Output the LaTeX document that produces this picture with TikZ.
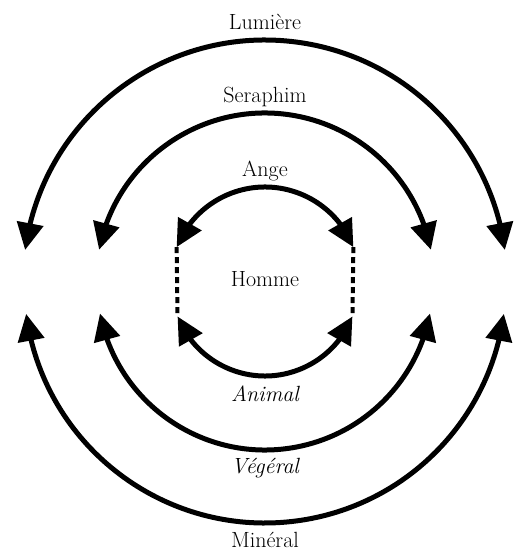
\documentclass[tikz,border=0pt]{standalone}
\usepackage{fontspec}
\usetikzlibrary{arrows.meta,bending}
\tikzset{
  arcarrow/.style={line width=5pt, {Triangle[length=27pt,width=26pt,flex]}-{Triangle[length=27pt,width=26pt,flex]}},
  dashline/.style={line width=4pt, dash pattern=on 6pt off 4pt},
  lbl/.style={anchor=base, inner sep=0pt, font=\fontsize{22}{26}\selectfont\addfontfeatures{FakeBold=1.5}},
  ilbl/.style={lbl, font=\fontsize{22}{26}\selectfont\itshape\addfontfeatures{FakeBold=1.5}}
}
\begin{document}
\begin{tikzpicture}[x=1pt,y=1pt]
\useasboundingbox (0,0) rectangle (516,555);
\coordinate (C) at (265,273);
% top arc end points
\coordinate (LumL) at ([shift={(C)}]172.4:242);
\coordinate (SerL) at ([shift={(C)}]169.0:169);
\coordinate (AngL) at ([shift={(C)}]158.5:95);
\coordinate (AngR) at ([shift={(C)}]21.5:95);
% bottom arc end points
\coordinate (MinL) at ([shift={(C)}]187.6:241);
\coordinate (VegL) at ([shift={(C)}]190.8:168);
\coordinate (AniL) at ([shift={(C)}]201.5:94);
\coordinate (AniR) at ([shift={(C)}]338.5:94);
% top arcs
\draw[arcarrow] (LumL) arc[start angle=172.4, end angle=7.6, radius=242];
\draw[arcarrow] (SerL) arc[start angle=169.0, end angle=11.0, radius=169];
\draw[arcarrow] (AngL) arc[start angle=158.5, end angle=21.5, radius=95];
% bottom arcs
\draw[arcarrow] (MinL) arc[start angle=187.6, end angle=352.4, radius=241];
\draw[arcarrow] (VegL) arc[start angle=190.8, end angle=349.2, radius=168];
\draw[arcarrow] (AniL) arc[start angle=201.5, end angle=338.5, radius=94];
% dashed connectors
\draw[dashline] (AngL) -- (AniL);
\draw[dashline] (AngR) -- (AniR);
% labels
\node[lbl] (lum) at (265,525) {Lumière};
\node[lbl] (ser) at (265,452) {Seraphim};
\node[lbl] (ang) at (265,378) {Ange};
\node[lbl] (hom) at (265,268) {Homme};
\node[ilbl] (ani) at (265,153) {Animal};
\node[ilbl] (veg) at (265,81) {Végéral};
\node[lbl] (min) at (265,7) {Minéral};
\end{tikzpicture}
\end{document}
